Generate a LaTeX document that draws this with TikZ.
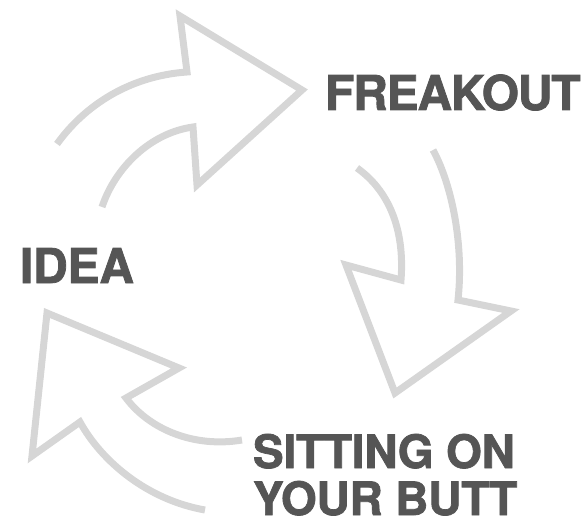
\documentclass[tikz,border=0pt]{standalone}
\usepackage{fontspec}
\setmainfont{TeX Gyre Heros}
\newfontfamily\lblfonttight[LetterSpace=-2.5, FakeBold=1.6]{TeX Gyre Heros Bold}
\newfontfamily\lblfont[LetterSpace=-0.5, FakeBold=1.6]{TeX Gyre Heros Bold}
\definecolor{arrowgray}{HTML}{D6D6D6}
\definecolor{textgray}{HTML}{555555}
\tikzset{
  cyclearrow/.style={draw=arrowgray, line width=7pt, line join=miter, miter limit=10, fill=none},
  lbl/.style={inner sep=0pt, outer sep=0pt, text=textgray, anchor=base west},
  lblbig/.style={lbl, font=\lblfonttight\fontsize{48}{48}\selectfont},
  lblidea/.style={lbl, font=\lblfont\fontsize{48}{48}\selectfont},
  lblsmall/.style={lbl, font=\lblfont\fontsize{46}{46}\selectfont}
}
\begin{document}
\begin{tikzpicture}[x=1pt, y=-1pt]
\useasboundingbox (0,0) rectangle (582,519);
% top arrow
\draw[cyclearrow] (57,144) .. controls (85,105) and (130,76) .. (187,72)
  -- (180,16) -- (302,90) -- (197,185) -- (193,127)
  .. controls (150,133) and (115,168) .. (102,207);
% right arrow
\draw[cyclearrow] (433,150) .. controls (452,185) and (464,245) .. (458,300)
  -- (511,311) -- (395,393) -- (346,265) -- (401,280)
  .. controls (405,228) and (388,190) .. (357,168);
% bottom-left arrow
\draw[cyclearrow] (242,440) .. controls (195,448) and (150,430) .. (126,398)
  -- (179,368) -- (47,313) -- (32,456) -- (80,422)
  .. controls (102,462) and (148,500) .. (205,510);
% labels
\node[lblbig] (freakout) at (325,110) {FREAKOUT};
\node[lblidea] (idea) at (20,283) {IDEA};
\node[lblsmall] (sitting) at (253,468) {SITTING ON};
\node[lblsmall] (butt) at (253,515) {YOUR BUTT};
\end{tikzpicture}
\end{document}
